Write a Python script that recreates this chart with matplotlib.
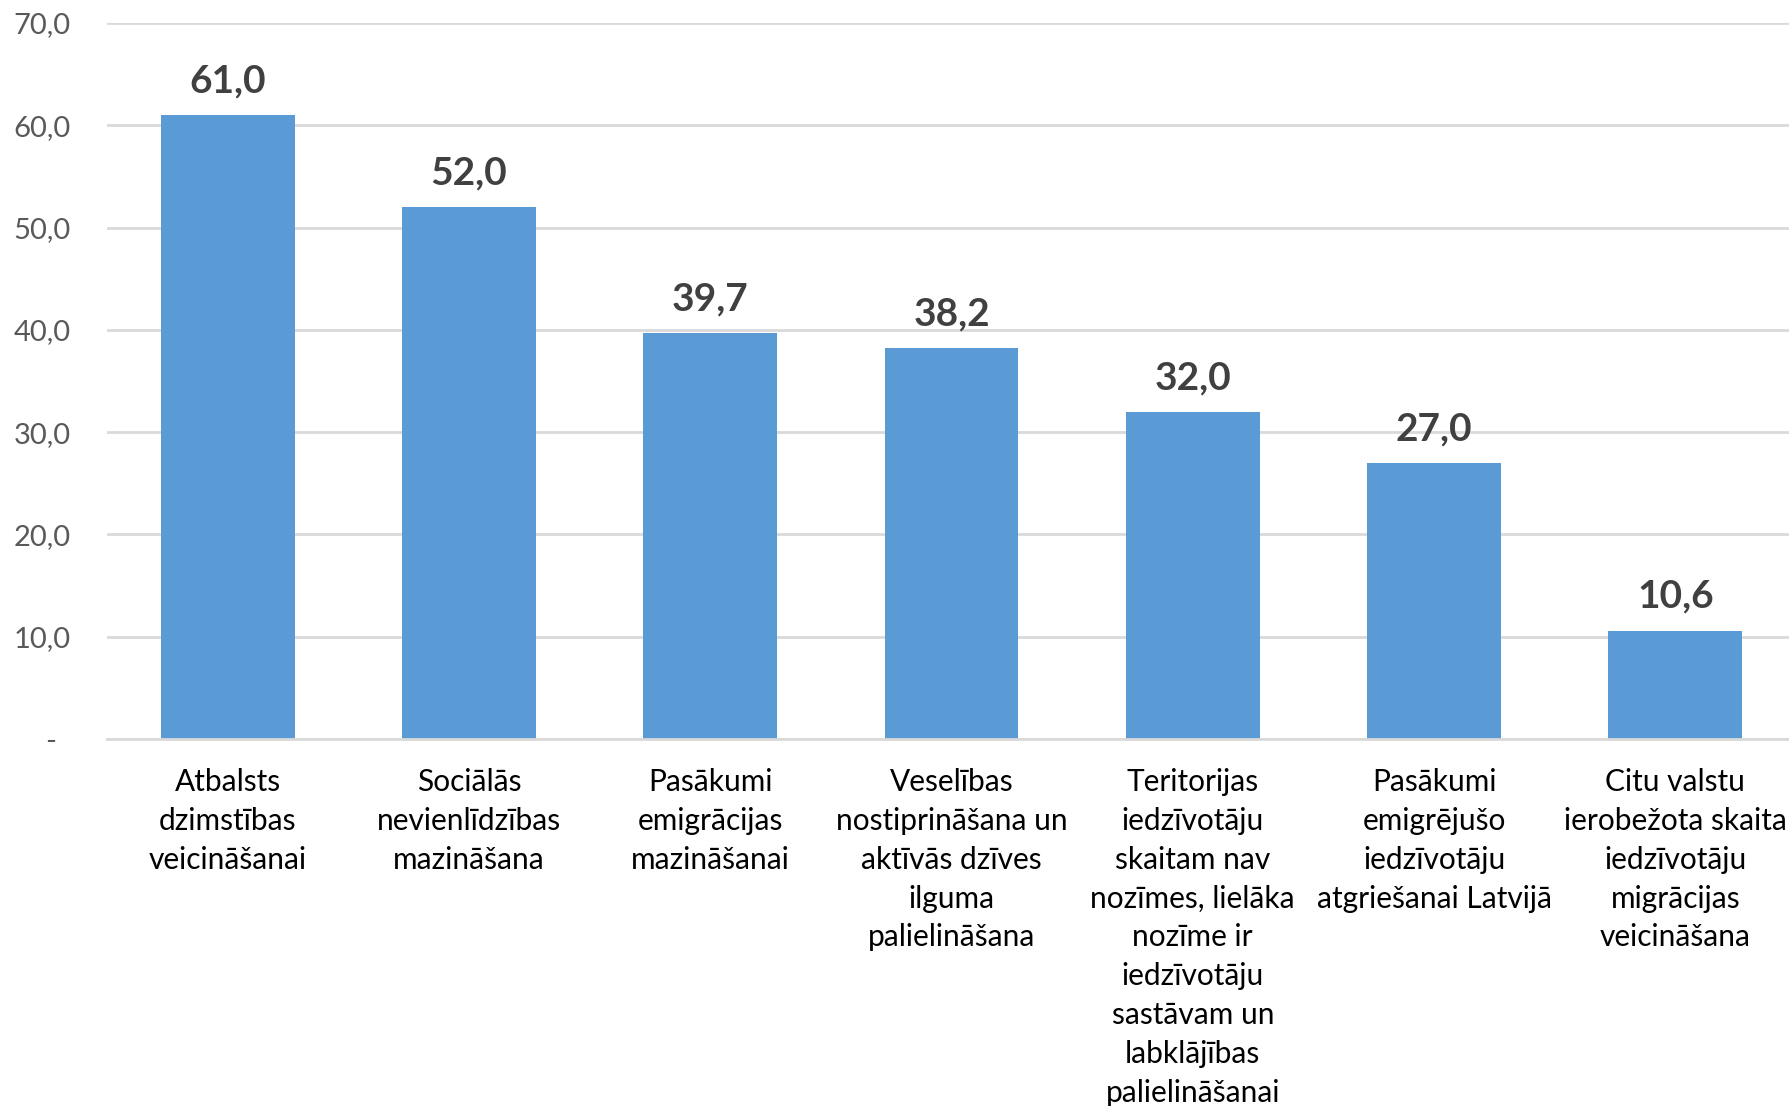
import matplotlib
matplotlib.use("Agg")
import matplotlib.pyplot as plt
import matplotlib.transforms as mtransforms

categories = [
    "Atbalsts\ndzimstības\nveicināšanai",
    "Sociālās\nnevienlīdzības\nmazināšana",
    "Pasākumi\nemigrācijas\nmazināšanai",
    "Veselības\nnostiprināšana un\naktīvās dzīves\nilguma\npalielināšana",
    "Teritorijas\niedzīvotāju\nskaitam nav\nnozīmes, lielāka\nnozīme ir\niedzīvotāju\nsastāvam un\nlabklājības\npalielināšanai",
    "Pasākumi\nemigrējušo\niedzīvotāju\natgriešanai Latvijā",
    "Citu valstu\nierobežota skaita\niedzīvotāju\nmigrācijas\nveicināšana",
]
values = [61.0, 52.0, 39.7, 38.2, 32.0, 27.0, 10.6]
yticks = [0, 10, 20, 30, 40, 50, 60, 70]
ytick_labels = ["-", "10,0", "20,0", "30,0", "40,0", "50,0", "60,0", "70,0"]

plt.rcParams['font.family'] = ['Lato', 'DejaVu Sans']

W, H = 1789, 1106
fig = plt.figure(figsize=(W / 100, H / 100), dpi=100)
left, right, top, bottom = 107, 1796, 23, 739
ax = fig.add_axes([left / W, 1 - bottom / H, (right - left) / W, (bottom - top) / H])

x = list(range(len(values)))
bars = ax.bar(x, values, width=0.555, color="#5b9bd5", zorder=2)
ax.set_xlim(-0.5, len(values) - 0.5)
ax.set_ylim(0, 70)

ax.set_yticks(yticks)
ax.set_yticklabels(ytick_labels)
ax.yaxis.grid(True, color="#d9d9d9", linewidth=2, zorder=0)
ax.set_axisbelow(True)
for s in ["left", "right", "top"]:
    ax.spines[s].set_visible(False)
ax.spines["bottom"].set_color("#d9d9d9")
ax.spines["bottom"].set_linewidth(2)

ax.tick_params(axis="y", length=0, pad=26, labelsize=21, labelcolor="#595959")
ax.tick_params(axis="x", length=0, pad=21)
ax.set_xticks(x)
ax.set_xticklabels(categories, fontsize=21.5, color="black", linespacing=1.47)

# shift "-" label left
zero_lbl = ax.get_yticklabels()[0]
zero_lbl.set_transform(zero_lbl.get_transform() +
                       mtransforms.ScaledTranslation(-15 / 100, 0, fig.dpi_scale_trans))

for xi, v in zip(x, values):
    ax.annotate(f"{v:.1f}".replace(".", ","), (xi, v), xytext=(0, 12),
                textcoords="offset points", ha="center", va="bottom",
                fontsize=28, fontweight="bold", color="#404040")

fig.savefig("out.png", dpi=100)
